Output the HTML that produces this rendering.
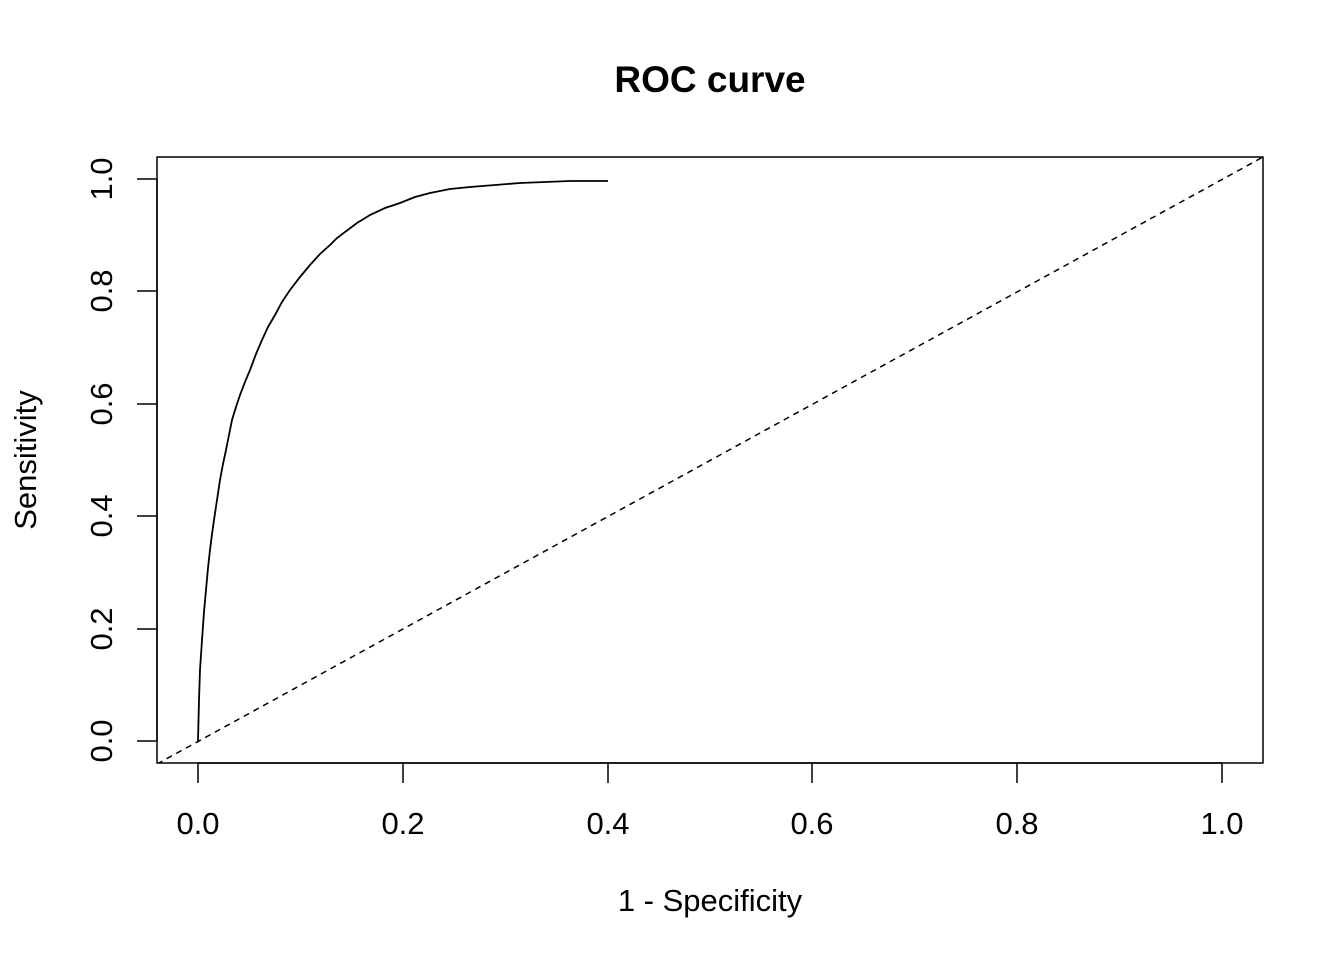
<!DOCTYPE html>
<html><head><meta charset="utf-8"><style>
html,body{margin:0;padding:0;background:#fff;}
text{font-family:"Liberation Sans",Arial,sans-serif;fill:#000;}
</style></head><body>
<svg width="1344" height="960" viewBox="0 0 1344 960" xmlns="http://www.w3.org/2000/svg">
<rect width="1344" height="960" fill="#fff"/>
<text x="710" y="92" font-size="37" font-weight="bold" text-anchor="middle">ROC curve</text>
<rect x="157" y="157" width="1106" height="606" fill="none" stroke="#000" stroke-width="1.5"/>
<defs><clipPath id="c"><rect x="157" y="157" width="1106" height="606"/></clipPath></defs>
<line x1="157" y1="764" x2="1263" y2="157" stroke="#000" stroke-width="1.5" stroke-dasharray="6,5" clip-path="url(#c)"/>
<polyline fill="none" stroke="#000" stroke-width="1.8" points="198,741 199,700 200,670 202,640 204,612 206,590 208,568 210,550 212,534 214,520 217,500 220,480 223,464 226,450 229,435 232,420 236,407 240,395 245,382 250,370 256,354 262,340 268,327 275,315 282,302 290,290 300,277 310,265 320,254 330,245 337,238 345,232 357,223 370,215 385,208 400,203 415,197 430,193 450,189 470,187 495,185 520,183 545,182 570,181 608,181"/>
<g stroke="#000" stroke-width="1.5">
<line x1="198" y1="763" x2="1222" y2="763"/>
<line x1="198" y1="763" x2="198" y2="783"/><line x1="403" y1="763" x2="403" y2="783"/>
<line x1="608" y1="763" x2="608" y2="783"/><line x1="812" y1="763" x2="812" y2="783"/>
<line x1="1017" y1="763" x2="1017" y2="783"/><line x1="1222" y1="763" x2="1222" y2="783"/>
<line x1="157" y1="179" x2="157" y2="741"/>
<line x1="137" y1="741" x2="157" y2="741"/><line x1="137" y1="629" x2="157" y2="629"/>
<line x1="137" y1="516" x2="157" y2="516"/><line x1="137" y1="404" x2="157" y2="404"/>
<line x1="137" y1="291" x2="157" y2="291"/><line x1="137" y1="179" x2="157" y2="179"/>
</g>
<g font-size="31" text-anchor="middle">
<text x="198" y="834">0.0</text><text x="403" y="834">0.2</text><text x="608" y="834">0.4</text>
<text x="812" y="834">0.6</text><text x="1017" y="834">0.8</text><text x="1222" y="834">1.0</text>
<text x="710" y="911">1 - Specificity</text>
<text transform="translate(112,741) rotate(-90)">0.0</text>
<text transform="translate(112,629) rotate(-90)">0.2</text>
<text transform="translate(112,516) rotate(-90)">0.4</text>
<text transform="translate(112,404) rotate(-90)">0.6</text>
<text transform="translate(112,291) rotate(-90)">0.8</text>
<text transform="translate(112,179) rotate(-90)">1.0</text>
<text transform="translate(36,460) rotate(-90)">Sensitivity</text>
</g>
</svg>
</body></html>
